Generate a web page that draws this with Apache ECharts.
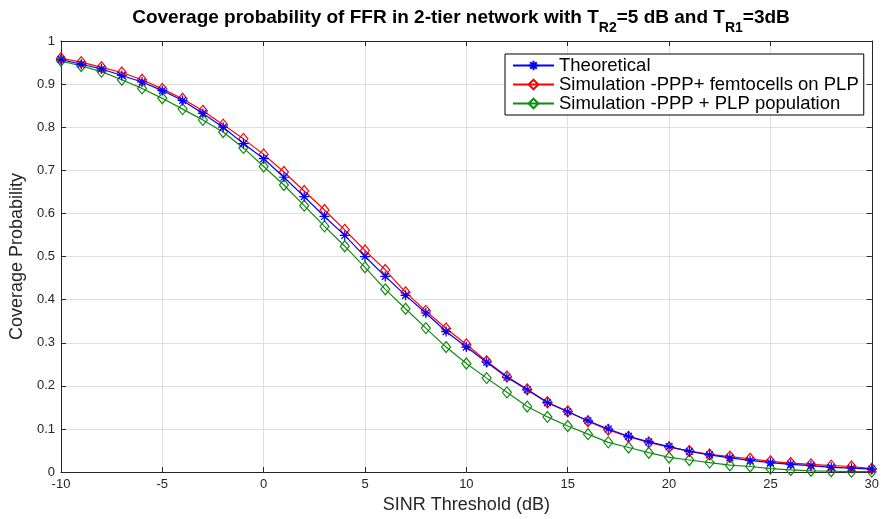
<!DOCTYPE html>
<html>
<head>
<meta charset="utf-8">
<script src="https://cdn.jsdelivr.net/npm/echarts@6/dist/echarts.min.js"></script>
<style>html,body{margin:0;padding:0;background:#fff;}#c{width:882px;height:519px;}</style>
</head>
<body>
<div id="c"></div>
<script>
const sinr = [-10,-9,-8,-7,-6,-5,-4,-3,-2,-1,0,1,2,3,4,5,6,7,8,9,10,11,12,13,14,15,16,17,18,19,20,21,22,23,24,25,26,27,28,29,30];
const theoretical = [0.957,0.946,0.935,0.920,0.905,0.885,0.862,0.832,0.800,0.762,0.727,0.684,0.639,0.593,0.549,0.500,0.454,0.410,0.369,0.326,0.290,0.255,0.220,0.191,0.161,0.140,0.119,0.100,0.083,0.070,0.059,0.048,0.040,0.033,0.027,0.022,0.018,0.015,0.011,0.009,0.007];
const simFemto = [0.960,0.951,0.939,0.927,0.910,0.889,0.866,0.838,0.806,0.773,0.737,0.696,0.652,0.608,0.562,0.514,0.469,0.417,0.374,0.333,0.296,0.257,0.222,0.192,0.162,0.141,0.118,0.098,0.082,0.069,0.058,0.049,0.041,0.036,0.031,0.025,0.021,0.018,0.015,0.013,0.008];
const simPopulation = [0.954,0.942,0.929,0.910,0.890,0.867,0.842,0.817,0.789,0.752,0.709,0.666,0.618,0.570,0.524,0.475,0.424,0.379,0.334,0.290,0.252,0.218,0.185,0.152,0.128,0.107,0.088,0.069,0.057,0.045,0.034,0.028,0.022,0.016,0.013,0.008,0.005,0.003,0.002,0.001,0.001];
const seriesNames = ['Theoretical','Simulation -PPP+ femtocells on PLP','Simulation -PPP + PLP population'];
const xTitle = 'SINR Threshold (dB)';
const yTitle = 'Coverage Probability';

const pair = ys => sinr.map((x,i)=>[x, ys[i]]);
const FONT = '"Liberation Sans", Arial, sans-serif';
const AX = '#262626';
const asterisk = 'path://M0,5 L10,5 M5,0 L5,10 M1.6,1.6 L8.4,8.4 M8.4,1.6 L1.6,8.4';
const diamond = 'path://M5,0 L10,6 L5,12 L0,6 Z';

function axisCommon(show){
  return {
    axisLine:{show:true, onZero:false, lineStyle:{color:AX, width:1}},
    axisTick:{show:true, inside:true, length:5, lineStyle:{color:AX}},
    axisLabel:{show:show, color:AX, fontSize:13, fontFamily:FONT, margin:6},
    splitLine:{show:show, lineStyle:{color:'#dedede', width:1}}
  };
}

const chart = echarts.init(document.getElementById('c'));
chart.setOption({
  animation:false,
  backgroundColor:'#fff',
  title:{
    left:461, top:1, textAlign:'center', padding:0,
    text:'{a|Coverage probability of FFR in 2-tier network with T}{s|R2}{a|=5 dB and T}{s|R1}{a|=3dB}',
    textStyle:{
      rich:{
        a:{fontSize:19, fontWeight:'bold', fontFamily:FONT, color:'#000'},
        s:{fontSize:14, fontWeight:'bold', fontFamily:FONT, color:'#000', padding:[20,0,0,0]}
      }
    }
  },
  grid:{left:57, right:7, top:41, bottom:40, containLabel:false},
  legend:{
    data:seriesNames,
    orient:'vertical', left:505, top:54,
    itemWidth:41, itemHeight:12, itemGap:0,
    padding:[2,5,2,7],
    backgroundColor:'#fff', borderColor:'#000', borderWidth:1, borderRadius:0,
    textStyle:{fontSize:18.5, fontFamily:FONT, color:'#000', lineHeight:18.5},
    selectedMode:false
  },
  xAxis:[
    Object.assign({type:'value', min:-10, max:30, interval:5, position:'bottom',
      name:xTitle, nameLocation:'middle', nameGap:19,
      nameTextStyle:{fontSize:18, fontFamily:FONT, color:AX}}, axisCommon(true)),
    Object.assign({type:'value', min:-10, max:30, interval:5, position:'top'}, axisCommon(false))
  ],
  yAxis:[
    Object.assign({type:'value', min:0, max:1, interval:0.1, position:'left',
      name:yTitle, nameLocation:'middle', nameGap:27,
      nameTextStyle:{fontSize:18, fontFamily:FONT, color:AX}}, axisCommon(true)),
    Object.assign({type:'value', min:0, max:1, interval:0.1, position:'right'}, axisCommon(false))
  ],
  series:[
    {name:seriesNames[2], type:'line', data:pair(simPopulation), z:3,
      symbol:diamond, symbolSize:[9,11], showAllSymbol:true,
      lineStyle:{color:'#108a10', width:1.2},
      itemStyle:{color:'none', borderColor:'#108a10', borderWidth:1.2},
      emphasis:{disabled:true}},
    {name:seriesNames[1], type:'line', data:pair(simFemto), z:4,
      symbol:diamond, symbolSize:[9,11], showAllSymbol:true,
      lineStyle:{color:'#ff0000', width:1.2},
      itemStyle:{color:'none', borderColor:'#ff0000', borderWidth:1.2},
      emphasis:{disabled:true}},
    {name:seriesNames[0], type:'line', data:pair(theoretical), z:5,
      symbol:asterisk, symbolSize:10, showAllSymbol:true,
      lineStyle:{color:'#0000ff', width:1.2},
      itemStyle:{color:'none', borderColor:'#0000ff', borderWidth:1.2},
      emphasis:{disabled:true}}
  ]
});
</script>
</body>
</html>
